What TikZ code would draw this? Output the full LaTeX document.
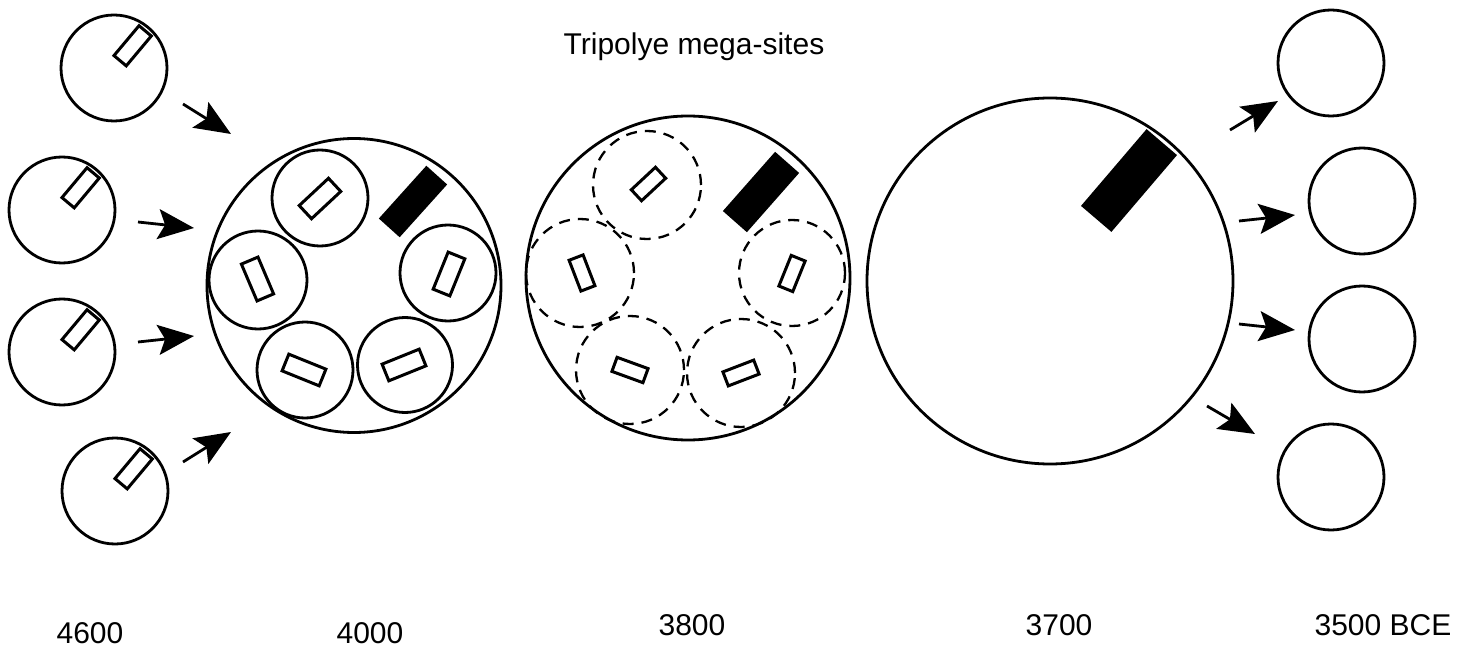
\documentclass[tikz,border=0pt]{standalone}
\usepackage{fontspec}
\setmainfont{Liberation Sans}
\usetikzlibrary{arrows.meta,calc}
\begin{document}
\begin{tikzpicture}[x=1pt,y=1pt,
  site/.style={circle,draw,line width=2.8pt,inner sep=0pt,minimum size=#1},
  dsite/.style={circle,draw,line width=2.3pt,inner sep=0pt,minimum size=#1,dash pattern=on 11pt off 8pt},
  house/.style={rectangle,draw,line width=3pt,inner sep=0pt,minimum width=#1},
  bighouse/.style={rectangle,fill=black,inner sep=0pt},
  flow/.style={line width=2.8pt,-{Stealth[length=36pt,width=30pt,inset=7pt]}},
  lbl/.style={font=\fontsize{30}{36}\selectfont,anchor=base,inner sep=0pt}]
\useasboundingbox (0,0) rectangle (1465,-647);
% left small settlements (4600)
\foreach \n/\x/\y in {L1/114/68,L2/62/210,L3/62/352,L4/115/491}{
  \node[site=106pt] (\n) at (\x,-\y) {};
  \node[house=39pt,minimum height=16pt,rotate=50] (\n h) at ($(\x,-\y)+(50:29)$) {};
}
% arrows in
\coordinate (a1s) at (183,-104); \coordinate (a1e) at (231,-134);
\coordinate (a2s) at (138,-222); \coordinate (a2e) at (194,-228);
\coordinate (a3s) at (138,-342); \coordinate (a3e) at (194,-336);
\coordinate (a4s) at (183,-462); \coordinate (a4e) at (231,-432);
\foreach \i in {1,...,4}{\draw[flow] (a\i s) -- (a\i e);}
% 4000 site
\node[site=294pt] (A) at (354,-285.5) {};
\node[site=96pt] (A1) at (320,-198) {};
\node[site=98pt] (A2) at (258,-280) {};
\node[site=96pt] (A3) at (448,-273) {};
\node[site=96pt] (A4) at (305,-370) {};
\node[site=95pt] (A5) at (405,-365) {};
\node[house=40pt,minimum height=18pt,rotate=43] (A1h) at (320,-198.5) {};
\node[house=40pt,minimum height=18pt,rotate=-67] (A2h) at (257.5,-279) {};
\node[house=40pt,minimum height=18pt,rotate=68] (A3h) at (449,-274) {};
\node[house=40pt,minimum height=18pt,rotate=-22] (A4h) at (304,-370) {};
\node[house=40pt,minimum height=18pt,rotate=22] (A5h) at (404,-365) {};
\node[bighouse,minimum width=71pt,minimum height=28pt,rotate=48] (Ab) at (413,-201.5) {};
% 3800 site
\node[site=324pt] (B) at (688,-278) {};
\node[dsite=108pt] (B1) at (647,-185) {};
\node[dsite=108pt] (B2) at (580,-273) {};
\node[dsite=106pt] (B3) at (792,-273) {};
\node[dsite=108pt] (B4) at (630,-370) {};
\node[dsite=108pt] (B5) at (741,-373) {};
\node[house=33pt,minimum height=15pt,rotate=43] (B1h) at (648.5,-184) {};
\node[house=33pt,minimum height=15pt,rotate=-69] (B2h) at (582,-273) {};
\node[house=33pt,minimum height=15pt,rotate=68] (B3h) at (792,-273.5) {};
\node[house=33pt,minimum height=15pt,rotate=-20] (B4h) at (630,-370) {};
\node[house=33pt,minimum height=15pt,rotate=21] (B5h) at (741,-373) {};
\node[bighouse,minimum width=79pt,minimum height=32pt,rotate=48.6] (Bb) at (761,-192) {};
% 3700 site
\node[site=366pt] (C) at (1050,-281) {};
\node[bighouse,minimum width=101pt,minimum height=40pt,rotate=49.5] (Cb) at (1129,-180.5) {};
% arrows out
\coordinate (b1s) at (1230,-130); \coordinate (b1e) at (1278,-101);
\coordinate (b2s) at (1239,-221); \coordinate (b2e) at (1295,-215);
\coordinate (b3s) at (1239,-324); \coordinate (b3e) at (1295,-330);
\coordinate (b4s) at (1207,-406); \coordinate (b4e) at (1255,-434);
\foreach \i in {1,...,4}{\draw[flow] (b\i s) -- (b\i e);}
% right small settlements (3500)
\node[site=106pt] (R1) at (1331,-63) {};
\node[site=106pt] (R2) at (1362,-201) {};
\node[site=106pt] (R3) at (1362,-339) {};
\node[site=106pt] (R4) at (1331,-477) {};
% texts
\node[lbl] (title) at (694,-55) {Tripolye mega-sites};
\node[lbl] (t4600) at (90,-643) {4600};
\node[lbl] (t4000) at (370,-643) {4000};
\node[lbl] (t3800) at (692,-635) {3800};
\node[lbl] (t3700) at (1059,-635) {3700};
\node[lbl] (t3500) at (1383,-635) {3500 BCE};
\end{tikzpicture}
\end{document}
